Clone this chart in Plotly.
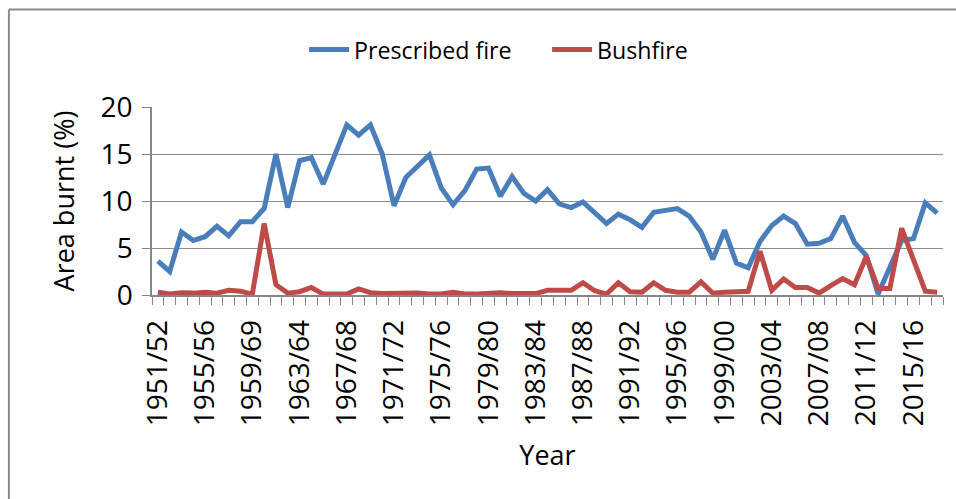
import plotly.graph_objects as go

categories = [
    "1951/52", "1952/53", "1953/54", "1954/55", "1955/56", "1956/57", "1957/58", "1958/59",
    "1959/60", "1960/61", "1961/62", "1962/63", "1963/64", "1964/65", "1965/66", "1966/67",
    "1967/68", "1968/69", "1969/70", "1970/71", "1971/72", "1972/73", "1973/74", "1974/75",
    "1975/76", "1976/77", "1977/78", "1978/79", "1979/80", "1980/81", "1981/82", "1982/83",
    "1983/84", "1984/85", "1985/86", "1986/87", "1987/88", "1988/89", "1989/90", "1990/91",
    "1991/92", "1992/93", "1993/94", "1994/95", "1995/96", "1996/97", "1997/98", "1998/99",
    "1999/00", "2000/01", "2001/02", "2002/03", "2003/04", "2004/05", "2005/06", "2006/07",
    "2007/08", "2008/09", "2009/10", "2010/11", "2011/12", "2012/13", "2013/14", "2014/15",
    "2015/16", "2016/17", "2017/18",
]

prescribed_fire = [
    3.6, 2.5, 6.7, 5.8, 6.2, 7.3, 6.3, 7.8, 7.8, 9.2,
    15.0, 9.3, 14.3, 14.6, 11.8, 14.9, 18.1, 17.0, 18.1, 15.0,
    9.5, 12.5, 13.7, 14.9, 11.4, 9.6, 11.1, 13.4, 13.5, 10.5,
    12.6, 10.8, 10.0, 11.2, 9.7, 9.3, 9.9, 8.7, 7.6, 8.6,
    8.0, 7.2, 8.8, 9.0, 9.2, 8.4, 6.7, 3.8, 6.9, 3.4,
    2.9, 5.7, 7.4, 8.4, 7.6, 5.4, 5.5, 6.0, 8.4, 5.6,
    4.2, 0.1, 3.1, 5.8, 6.0, 9.8, 8.7,
]

bushfire = [
    0.3, 0.1, 0.25, 0.2, 0.3, 0.2, 0.5, 0.4, 0.1, 7.6,
    1.1, 0.2, 0.35, 0.8, 0.1, 0.1, 0.1, 0.65, 0.25, 0.15,
    0.2, 0.25, 0.2, 0.1, 0.1, 0.3, 0.1, 0.1, 0.2, 0.25,
    0.15, 0.2, 0.15, 0.5, 0.5, 0.5, 1.3, 0.45, 0.1, 1.3,
    0.35, 0.3, 1.3, 0.5, 0.3, 0.3, 1.4, 0.2, 0.3, 0.3,
    0.4, 4.65, 0.5, 1.7, 0.8, 0.8, 0.2, 1.0, 1.75, 1.1,
    4.1, 0.7, 0.7, 7.1, 3.7, 0.4, 0.3,
]

# labels shown on the axis (every 4th season); the third reads "1959/69" in the original
tick_labels = [
    "1951/52", "1955/56", "1959/69", "1963/64", "1967/68", "1971/72", "1975/76",
    "1979/80", "1983/84", "1987/88", "1991/92", "1995/96", "1999/00", "2003/04",
    "2007/08", "2011/12", "2015/16",
]
label_every = 4

label_alias = {}
for k, lab in enumerate(tick_labels):
    cat = categories[k * label_every]
    if cat != lab:
        label_alias[cat] = lab

FONT = "Open Sans"
W, H = 956, 499
ML, MR, MT, MB = 152, 13.4, 107, 204
pw = W - ML - MR
ph = H - MT - MB

def px_x(x):
    return (x - ML) / pw

def px_y(y):
    return (H - MB - y) / ph

fig = go.Figure()
fig.add_trace(go.Scatter(
    x=categories, y=prescribed_fire, name="Prescribed fire", mode="lines",
    line=dict(color="#4A7EBB", width=5, shape="linear"),
))
fig.add_trace(go.Scatter(
    x=categories, y=bushfire, name="Bushfire", mode="lines",
    line=dict(color="#BE4B48", width=5, shape="linear"),
))

fig.update_layout(
    width=W, height=H,
    margin=dict(l=ML, r=MR, t=MT, b=MB, pad=0),
    paper_bgcolor="white", plot_bgcolor="white",
    font=dict(family=FONT, color="black"),
    showlegend=True,
    legend=dict(
        orientation="h", x=px_x(304), y=px_y(50), xanchor="left", yanchor="middle",
        font=dict(size=23.2, family=FONT, color="black"),
        bgcolor="rgba(0,0,0,0)", itemwidth=40, tracegroupgap=0,
        entrywidth=188, entrywidthmode="pixels",
    ),
    xaxis=dict(
        type="category", categoryorder="array", categoryarray=categories,
        range=[-0.5, len(categories) - 0.5],
        tickmode="linear", tick0=0, dtick=1, ticklabelstep=label_every,
        labelalias=label_alias,
        tickson="boundaries", ticks="outside", ticklen=8, tickwidth=1.3, tickcolor="#868686",
        tickangle=-90, tickfont=dict(size=28, family=FONT, color="black"),
        ticklabelstandoff=12,
        showline=True, linecolor="#868686", linewidth=1.5,
        showgrid=False, zeroline=False,
        title=dict(text="Year", font=dict(size=27, family=FONT, color="black"), standoff=21),
    ),
    yaxis=dict(
        range=[0, 20], tickmode="linear", tick0=0, dtick=5,
        ticks="outside", ticklen=8, tickwidth=1.3, tickcolor="#868686",
        tickfont=dict(size=28, family=FONT, color="black"),
        ticklabelstandoff=4,
        showline=True, linecolor="#868686", linewidth=1.5,
        showgrid=True, gridcolor="#8c8c8c", gridwidth=1.3, zeroline=False,
        title=dict(text="Area burnt (%)", font=dict(size=27, family=FONT, color="black"), standoff=18),
    ),
    shapes=[
        dict(type="line", xref="paper", yref="paper",
             x0=px_x(9), y0=px_y(9.5), x1=px_x(W + 30), y1=px_y(9.5),
             line=dict(color="#8a8a8a", width=2), layer="below"),
        dict(type="line", xref="paper", yref="paper",
             x0=px_x(9), y0=px_y(9.5), x1=px_x(9), y1=px_y(H + 30),
             line=dict(color="#8a8a8a", width=2), layer="below"),
    ],
)

fig.write_html(
    "out.html",
    config={"displayModeBar": False},
    post_script="document.body.style.margin='0px';document.body.style.overflow='hidden';",
)
